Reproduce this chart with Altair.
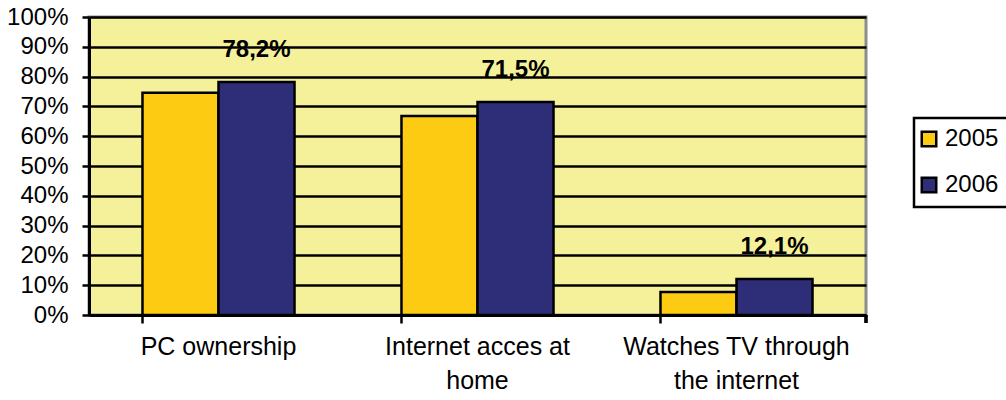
import altair as alt
import pandas as pd

categories = ["PC ownership", "Internet acces at\nhome", "Watches TV through\nthe internet"]
years = ["2005", "2006"]
values_2005 = [0.746, 0.668, 0.077]
values_2006 = [0.782, 0.715, 0.121]
labels_2006 = ["78,2%", "71,5%", "12,1%"]
y_ticks = [0, 0.1, 0.2, 0.3, 0.4, 0.5, 0.6, 0.7, 0.8, 0.9, 1.0]

rows = []
for i, c in enumerate(categories):
    rows.append({"cat": c, "year": "2005", "value": values_2005[i], "label": ""})
    rows.append({"cat": c, "year": "2006", "value": values_2006[i], "label": labels_2006[i]})
df = pd.DataFrame(rows)

FONT = "Liberation Sans"
W, H = 777, 298

x_enc = alt.X(
    "cat:N",
    sort=categories,
    scale=alt.Scale(paddingInner=0.413, paddingOuter=0.2065),
    axis=alt.Axis(
        title=None,
        labelAngle=0,
        labelExpr="split(datum.label, '\\n')",
        labelFont=FONT,
        labelFontSize=25,
        labelColor="black",
        labelLineHeight=34,
        labelPadding=11,
        labelBaseline="top",
        labelLimit=0,
        labelOverlap=False,
        bandPosition=0,
        tickSize=8,
        tickColor="black",
        tickWidth=2.5,
        domainColor="black",
        domainWidth=3,
        grid=False,
    ),
)

y_enc = alt.Y(
    "value:Q",
    scale=alt.Scale(domain=[0, 1], nice=False),
    axis=alt.Axis(
        title=None,
        values=y_ticks,
        tickCount=20,
        format=".0%",
        labelFont=FONT,
        labelFontSize=24,
        labelColor="black",
        labelPadding=14,
        labelOverlap=False,
        labelLimit=0,
        tickSize=7,
        tickColor="black",
        tickWidth=2.5,
        domainColor="black",
        domainWidth=3,
        grid=True,
        gridColor="black",
        gridWidth=2.5,
        gridOpacity=1,
    ),
)

color_enc = alt.Color(
    "year:N",
    scale=alt.Scale(domain=years, range=["#FCCB12", "#2E2D78"]),
    legend=alt.Legend(
        title=None,
        orient="none",
        legendX=825,
        legendY=101,
        labelFont=FONT,
        labelFontSize=24,
        labelColor="black",
        labelLimit=0,
        symbolType="square",
        symbolSize=210,
        symbolStrokeColor="black",
        symbolStrokeWidth=2.5,
        symbolOpacity=1,
        symbolOffset=-6,
        rowPadding=20,
        padding=9,
        labelOffset=4,
        strokeColor="black",
        fillColor="white",
    ),
)

bars = alt.Chart(df).mark_bar(stroke="black", strokeWidth=2.5, opacity=1).encode(
    x=x_enc,
    xOffset=alt.XOffset("year:N", sort=years, scale=alt.Scale(paddingInner=0, paddingOuter=0)),
    y=y_enc,
    color=color_enc,
)

text = alt.Chart(df).transform_filter(alt.datum.year == "2006").mark_text(
    font=FONT, fontSize=24, fontWeight="bold", color="black",
    baseline="alphabetic", align="center", dy=-25,
).encode(
    x=x_enc,
    xOffset=alt.XOffset("year:N", sort=years),
    y=y_enc,
    text="label:N",
)

end_tick = alt.Chart(df).mark_rule(color="black", strokeWidth=2.5).encode(
    x=alt.value(W), y=alt.value(H), y2=alt.value(H + 8)
)

chart = alt.layer(bars, text, end_tick).properties(
    width=W,
    height=H,
    autosize=alt.AutoSizeParams(type="none"),
    padding={"left": 89, "top": 17, "right": 140, "bottom": 85},
    background="white",
).configure_view(
    fill="#F5F19B",
    stroke="#8C8C8C",
    strokeWidth=3,
).configure_legend(
    strokeWidth=2.5,
    cornerRadius=0,
)

chart.save("out.html", embed_options={"renderer": "svg", "actions": False})
